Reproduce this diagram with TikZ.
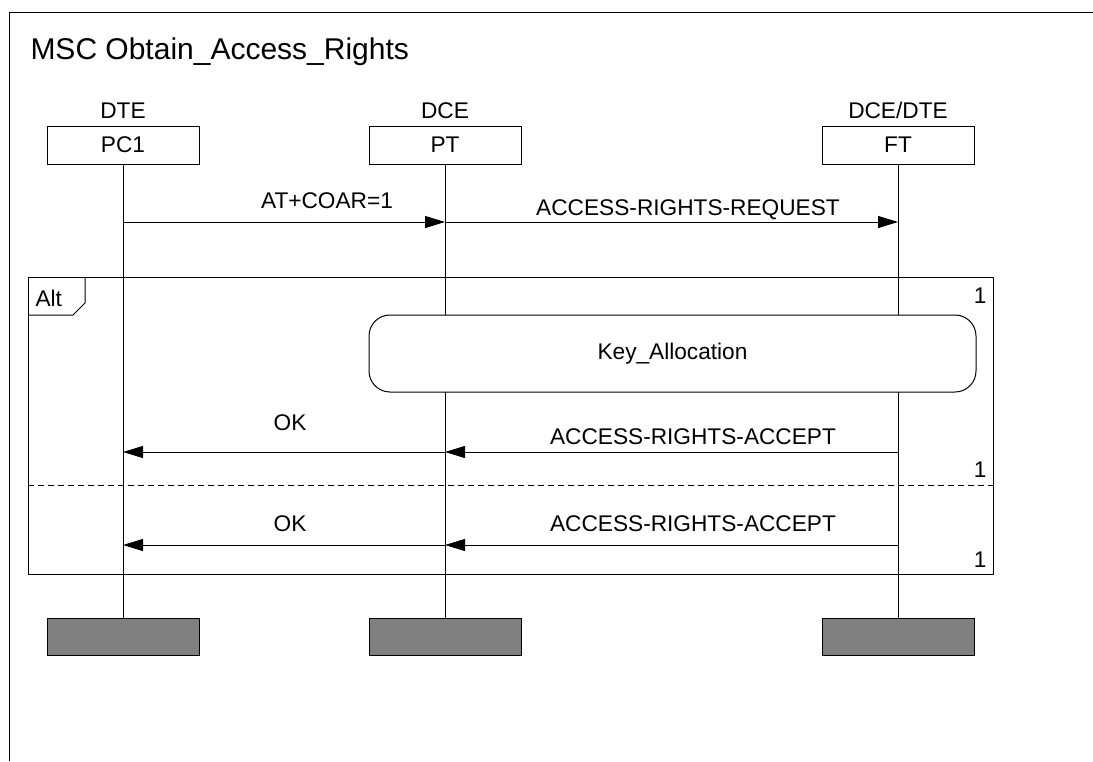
\documentclass[tikz,border=0pt]{standalone}
\usepackage{fontspec}
\setmainfont{Liberation Sans}
\usetikzlibrary{arrows.meta}

\tikzset{
  lbl/.style={font=\fontsize{17}{20}\selectfont, inner sep=0pt},
  inst/.style={draw, lbl, minimum width=114pt, minimum height=28.5pt},
  stopbox/.style={draw, fill=black!50, minimum width=114pt, minimum height=27.75pt, inner sep=0pt},
  msg/.style={-{Triangle[length=15pt,width=9pt]}},
}

\begin{document}
\begin{tikzpicture}[x=0.75pt, y=-0.75pt, line width=0.75pt]
	\useasboundingbox (0,0) rectangle (1093,761);
	\draw (9.5,761) -- (9.5,12.7) -- (1093,12.7);
	\node[lbl, font=\fontsize{22.5}{27}\selectfont, anchor=base west] (title) at (30,59) {MSC Obtain\_Access\_Rights};

	% instances
	\foreach \n/\x/\role/\name in {pc1/123/DTE/PC1, pt/445/DCE/PT, ft/898/{DCE/DTE}/FT}{
		\node[inst] (\n) at (\x,145) {\name};
		\node[lbl, anchor=base] (\n role) at (\x,118) {\role};
		\node[stopbox] (\n end) at (\x,636.5) {};
		\draw (\n) -- (\n end);
	}

	% messages
	\coordinate (m1a) at (123,222);
	\coordinate (m1b) at (445,222);
	\coordinate (m1c) at (898,222);
	\draw[msg] (m1a) -- (m1b);
	\draw[msg] (m1b) -- (m1c);
	\node[lbl, anchor=base] (coar) at (327,208) {AT+COAR=1};
	\node[lbl, anchor=base] (req) at (688,215) {ACCESS-RIGHTS-REQUEST};

	% alt frame
	\draw (28,277) rectangle (993,574);
	\draw (85,277) -- (85,303) -- (73,315) -- (28,315);
	\node[lbl, anchor=base west] (alt) at (35,306) {Alt};
	\node[lbl, anchor=base east] (one1) at (987,303) {1};
	\draw[dash pattern=on 4.5pt off 3pt] (28,485) -- (993,485);
	\node[lbl, anchor=base east] (one2) at (987,477) {1};
	\node[lbl, anchor=base east] (one3) at (987,567) {1};

	\node[draw, fill=white, rounded corners=15.75pt, lbl, minimum width=455.25pt, minimum height=57.75pt] (key) at (672.5,353.5) {Key\_Allocation};

	\coordinate (m2a) at (123,452);
	\coordinate (m2b) at (445,452);
	\coordinate (m2c) at (898,452);
	\draw[msg] (m2c) -- (m2b);
	\draw[msg] (m2b) -- (m2a);
	\node[lbl, anchor=base] (ok1) at (290,430) {OK};
	\node[lbl, anchor=base] (acc1) at (693,444) {ACCESS-RIGHTS-ACCEPT};

	\coordinate (m3a) at (123,545);
	\coordinate (m3b) at (445,545);
	\coordinate (m3c) at (898,545);
	\draw[msg] (m3c) -- (m3b);
	\draw[msg] (m3b) -- (m3a);
	\node[lbl, anchor=base] (ok2) at (290,531) {OK};
	\node[lbl, anchor=base] (acc2) at (693,531) {ACCESS-RIGHTS-ACCEPT};
\end{tikzpicture}
\end{document}
